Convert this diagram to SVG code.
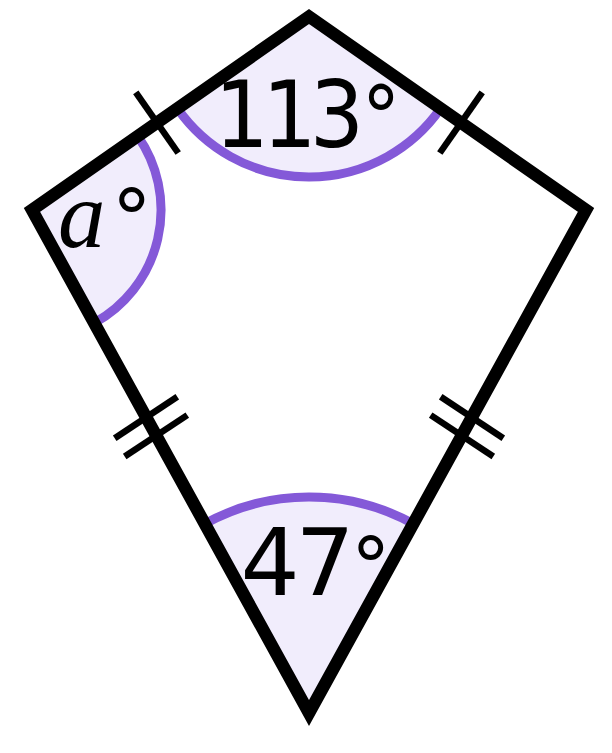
<svg xmlns="http://www.w3.org/2000/svg" width="612" height="753" viewBox="0 0 612 753">
  <style>
    .sector { fill: #f1edfc; stroke: none; }
    .arc { fill: none; stroke: #8459d8; stroke-width: 9; }
    .edge { fill: none; stroke: #000; stroke-width: 12.5; stroke-linejoin: miter; stroke-miterlimit: 10; }
    .tick { fill: none; stroke: #000; stroke-width: 6.5; stroke-linecap: butt; }
    .lbl { font-family: "DejaVu Sans", "Liberation Sans", sans-serif; fill: #000; }
    .var { font-family: "Liberation Serif", "DejaVu Serif", serif; font-style: italic; }
  </style>
  <rect width="612" height="753" fill="#fff"/>

  <g id="angle-top">
    <path class="sector" d="M309,16.5 L177.4,108.4 A160.5,160.5 0 0 0 440.6,108.4 Z"/>
    <path class="arc" d="M177.4,108.4 A160.5,160.5 0 0 0 440.6,108.4"/>
  </g>
  <g id="angle-left">
    <path class="sector" d="M32,210 L137.8,136.1 A129,129 0 0 1 94.2,323 Z"/>
    <path class="arc" d="M137.8,136.1 A129,129 0 0 1 94.2,323"/>
  </g>
  <g id="angle-bottom">
    <path class="sector" d="M309,713 L204.8,523.8 A216,216 0 0 1 413.2,523.8 Z"/>
    <path class="arc" d="M204.8,523.8 A216,216 0 0 1 413.2,523.8"/>
  </g>

  <g id="kite">
    <polygon class="edge" points="309,16.5 586,210 309,713 32,210"/>
  </g>

  <g id="ticks">
    <line class="tick" x1="135.8" y1="92.4" x2="178.2" y2="153"/>
    <line class="tick" x1="482.2" y1="92.4" x2="439.8" y2="153"/>
    <line class="tick" x1="114.7" y1="438.2" x2="177.3" y2="396.8"/>
    <line class="tick" x1="124.7" y1="456.5" x2="187.3" y2="415.1"/>
    <line class="tick" x1="503.3" y1="438.2" x2="440.7" y2="396.8"/>
    <line class="tick" x1="493.3" y1="456.5" x2="430.7" y2="415.1"/>
  </g>

  <g id="label-113">
    <text class="lbl" transform="translate(214.6,147) scale(0.92,1)" font-size="93" letter-spacing="-7.5">113<tspan font-size="85" dx="4.6">°</tspan></text>
  </g>
  <g id="label-a">
    <text class="lbl" y="246.5"><tspan class="var" x="58" font-size="95">a</tspan><tspan font-size="81" dx="6">°</tspan></text>
  </g>
  <g id="label-47">
    <text class="lbl" x="240.4" y="595" font-size="93" letter-spacing="-4">47<tspan font-size="80">°</tspan></text>
  </g>
</svg>
